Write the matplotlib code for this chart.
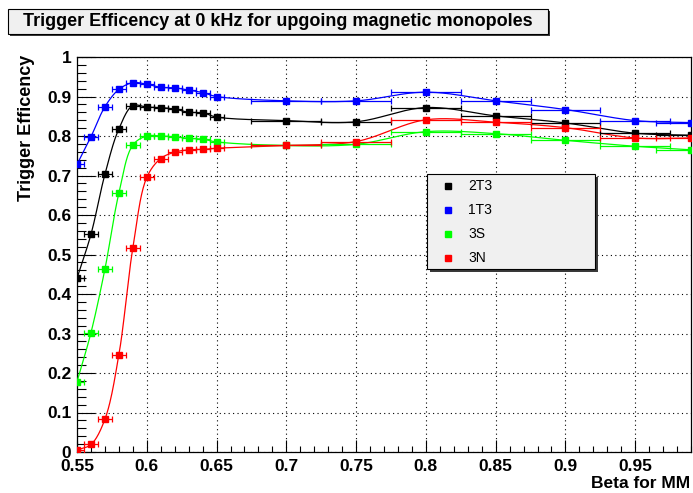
import numpy as np
import matplotlib
matplotlib.use('Agg')
import matplotlib.pyplot as plt
from matplotlib.patches import Rectangle
from matplotlib.lines import Line2D
from matplotlib.ticker import MultipleLocator

W, H = 693, 493

# beta values and half-widths of the bins
beta = [0.55, 0.56, 0.57, 0.58, 0.59, 0.60, 0.61, 0.62, 0.63, 0.64, 0.65,
        0.70, 0.75, 0.80, 0.85, 0.90, 0.95, 0.99]
beta_err = [0.005] * 11 + [0.025] * 7

eff_2t3 = [0.440, 0.551, 0.703, 0.818, 0.877, 0.873, 0.872, 0.868, 0.860, 0.859, 0.848,
           0.839, 0.836, 0.872, 0.851, 0.833, 0.807, 0.802]
eff_1t3 = [0.728, 0.798, 0.874, 0.918, 0.935, 0.931, 0.923, 0.922, 0.916, 0.910, 0.900,
           0.889, 0.889, 0.911, 0.889, 0.867, 0.839, 0.834]
eff_3s = [0.178, 0.302, 0.463, 0.655, 0.777, 0.800, 0.800, 0.798, 0.794, 0.792, 0.785,
          0.776, 0.779, 0.811, 0.806, 0.789, 0.774, 0.765]
eff_3n = [0.005, 0.019, 0.083, 0.246, 0.516, 0.695, 0.743, 0.759, 0.765, 0.766, 0.769,
          0.776, 0.786, 0.841, 0.835, 0.821, 0.795, 0.795]

series = [('2T3', eff_2t3, 'black'), ('1T3', eff_1t3, '#0000ff'),
          ('3S', eff_3s, '#00ff00'), ('3N', eff_3n, '#ff0000')]

XMIN, XMAX = 0.55, 0.99
AX_L, AX_R, AX_T, AX_B = 77, 691, 57, 452

plt.rcParams['font.family'] = ['Liberation Sans', 'DejaVu Sans']


def fx(px):
    return px / W


def fy(py):
    return 1 - py / H


def smooth(xs, ys, n=20):
    # centripetal catmull-rom through the points, done in pixel space
    sx = (AX_R - AX_L) / (XMAX - XMIN)
    sy = AX_B - AX_T
    p = np.column_stack([(np.array(xs) - XMIN) * sx, np.array(ys) * sy])
    p = np.vstack([2 * p[0] - p[1], p, 2 * p[-1] - p[-2]])
    out = []
    for i in range(1, len(p) - 2):
        p0, p1, p2, p3 = p[i - 1], p[i], p[i + 1], p[i + 2]
        t0 = 0.0
        t1 = t0 + np.linalg.norm(p1 - p0) ** 0.5
        t2 = t1 + np.linalg.norm(p2 - p1) ** 0.5
        t3 = t2 + np.linalg.norm(p3 - p2) ** 0.5
        for t in np.linspace(t1, t2, n, endpoint=False):
            a1 = (t1 - t) / (t1 - t0) * p0 + (t - t0) / (t1 - t0) * p1
            a2 = (t2 - t) / (t2 - t1) * p1 + (t - t1) / (t2 - t1) * p2
            a3 = (t3 - t) / (t3 - t2) * p2 + (t - t2) / (t3 - t2) * p3
            b1 = (t2 - t) / (t2 - t0) * a1 + (t - t0) / (t2 - t0) * a2
            b2 = (t3 - t) / (t3 - t1) * a2 + (t - t1) / (t3 - t1) * a3
            out.append((t2 - t) / (t2 - t1) * b1 + (t - t1) / (t2 - t1) * b2)
    out.append(p[-2])
    out = np.array(out)
    return out[:, 0] / sx + XMIN, out[:, 1] / sy


fig = plt.figure(figsize=(W / 100, H / 100), dpi=100)
ax = fig.add_axes([fx(AX_L), fy(AX_B), (AX_R - AX_L) / W, (AX_B - AX_T) / H])

for name, eff, col in series:
    cx, cy = smooth(beta, eff)
    ax.plot(cx, cy, color=col, lw=0.9, zorder=3)
    ax.errorbar(beta, eff, xerr=beta_err, fmt='s', color=col, ms=5,
                elinewidth=0.9, capsize=2.5, capthick=0.9, zorder=4)

ax.set_xlim(XMIN, XMAX)
ax.set_ylim(0, 1)
ax.xaxis.set_major_locator(MultipleLocator(0.05))
ax.xaxis.set_minor_locator(MultipleLocator(0.01))
ax.yaxis.set_major_locator(MultipleLocator(0.1))
ax.yaxis.set_minor_locator(MultipleLocator(0.02))
ax.set_xticks(np.arange(0.55, 0.96, 0.05))
ax.set_xticklabels(['0.55', '0.6', '0.65', '0.7', '0.75', '0.8', '0.85', '0.9', '0.95'])
ax.set_yticks(np.arange(0, 1.01, 0.1))
ax.set_yticklabels(['0', '0.1', '0.2', '0.3', '0.4', '0.5', '0.6', '0.7', '0.8', '0.9', '1'])
ax.tick_params(which='both', direction='in', top=False, right=False, width=0.8)
ax.tick_params(axis='x', which='major', length=9, pad=5, labelsize=12.5)
ax.tick_params(axis='x', which='minor', length=4.5)
ax.tick_params(axis='y', which='major', length=13, pad=4, labelsize=12.5)
ax.tick_params(axis='y', which='minor', length=6.5)
for lab in ax.get_xticklabels() + ax.get_yticklabels():
    lab.set_fontweight('bold')
ax.grid(True, which='major', color='black', ls=(0, (1, 3)), lw=0.8)
for s in ax.spines.values():
    s.set_linewidth(0.9)

fig.text(fx(27), fy(55), 'Trigger Efficency', rotation=90, ha='center', va='top',
         fontsize=13, fontweight='bold')
fig.text(fx(690), fy(483), 'Beta for MM', ha='right', va='center',
         fontsize=12.5, fontweight='bold')

# title box with shadow
fig.add_artist(Rectangle((fx(10), fy(36)), (540) / W, 25 / H, transform=fig.transFigure,
                         facecolor='#3a3a3a', edgecolor='none'))
fig.add_artist(Rectangle((fx(8), fy(34)), (540) / W, 25 / H, transform=fig.transFigure,
                         facecolor='#f0f0f0', edgecolor='black', lw=0.8))
fig.text(fx(278), fy(21.5), 'Trigger Efficency at 0 kHz for upgoing magnetic monopoles',
         ha='center', va='center', fontsize=13, fontweight='bold')

# legend box
fig.add_artist(Rectangle((fx(430), fy(272)), 168 / W, 95 / H, transform=fig.transFigure,
                         facecolor='#3a3a3a', edgecolor='none', zorder=5))
fig.add_artist(Rectangle((fx(427), fy(269)), 168 / W, 95 / H, transform=fig.transFigure,
                         facecolor='#f0f0f0', edgecolor='black', lw=0.8, zorder=6))
for i, (name, eff, col) in enumerate(series):
    yy = fy(186 + i * 24)
    fig.add_artist(Line2D([fx(447.5)], [yy], marker='s', ms=4.5, color=col,
                          transform=fig.transFigure, zorder=7))
    fig.text(fx(468), yy, name, ha='left', va='center', fontsize=10, zorder=7)

fig.savefig('out.png', dpi=100)
